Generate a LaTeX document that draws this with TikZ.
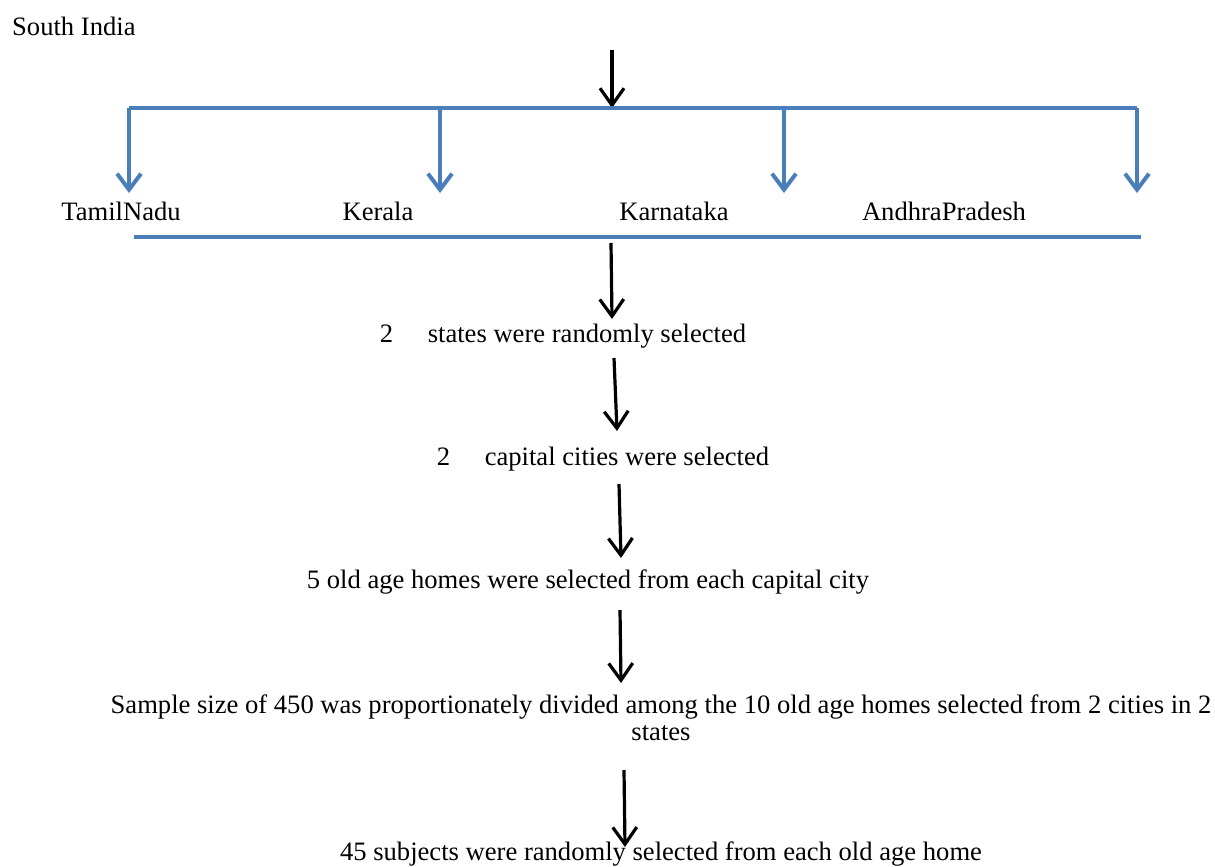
\documentclass[tikz,border=0pt]{standalone}
\usepackage{fontspec}
\setmainfont{Liberation Serif}
\usetikzlibrary{arrows.meta}
\definecolor{lineblue}{RGB}{74,126,187}
\tikzset{
  lbl/.style={anchor=base, inner sep=0pt, font=\fontsize{26.6}{26.5}\selectfont},
  bline/.style={draw=lineblue, line width=4pt},
  barrow/.style={draw=lineblue, line width=4pt, -{Straight Barb[length=16pt,width=24pt,line width=4pt]}},
  karrow/.style={draw=black, line width=3.2pt, -{Straight Barb[length=17pt,width=24pt,line width=3.2pt]}},
}
\begin{document}
\begin{tikzpicture}[x=1pt,y=-1pt]
\useasboundingbox (0,0) rectangle (1215,867);
\node[lbl, anchor=base west] (si) at (12,36) {South India};
% top black arrow
\coordinate (a0) at (612,50);
\coordinate (t0) at (612,108);
\draw[karrow] (a0) -- (t0);
% blue bracket
\coordinate (bl) at (129,108);
\coordinate (br) at (1137,108);
\coordinate (b1) at (129,193);
\coordinate (k1) at (440,108);
\coordinate (b2) at (440,193);
\coordinate (k2) at (784,108);
\coordinate (b3) at (784,193);
\coordinate (b4) at (1137,193);
\draw[bline] (bl) -- (br);
\draw[barrow] (bl) -- (b1);
\draw[barrow] (k1) -- (b2);
\draw[barrow] (k2) -- (b3);
\draw[barrow] (br) -- (b4);
% state labels
\node[lbl] (tn) at (121,220) {TamilNadu};
\node[lbl] (ke) at (378,220) {Kerala};
\node[lbl] (ka) at (674,220) {Karnataka};
\node[lbl] (ap) at (944,220) {AndhraPradesh};
\coordinate (ll) at (134,237);
\coordinate (lr) at (1141,237);
\draw[bline] (ll) -- (lr);
% steps
\node[lbl] (s1) at (563,342) {2\hspace{1.3em}states were randomly selected};
\node[lbl] (s2) at (603,465) {2\hspace{1.3em}capital cities were selected};
\node[lbl] (s3) at (588,588) {5 old age homes were selected from each capital city};
\node[lbl, align=center] (s4) at (661,740) {Sample size of 450 was proportionately divided among the 10 old age homes selected from 2 cities in 2\\states};
\node[lbl] (s5) at (661,860) {45 subjects were randomly selected from each old age home};
% black arrows
\coordinate (c1) at (611,243); \coordinate (d1) at (612,319);
\coordinate (c2) at (614,358); \coordinate (d2) at (617,431);
\coordinate (c3) at (619,484); \coordinate (d3) at (621,558);
\coordinate (c4) at (620,610); \coordinate (d4) at (621,683);
\coordinate (c5) at (624,770); \coordinate (d5) at (625,847);
\draw[karrow] (c1) -- (d1);
\draw[karrow] (c2) -- (d2);
\draw[karrow] (c3) -- (d3);
\draw[karrow] (c4) -- (d4);
\draw[karrow] (c5) -- (d5);
\end{tikzpicture}
\end{document}
